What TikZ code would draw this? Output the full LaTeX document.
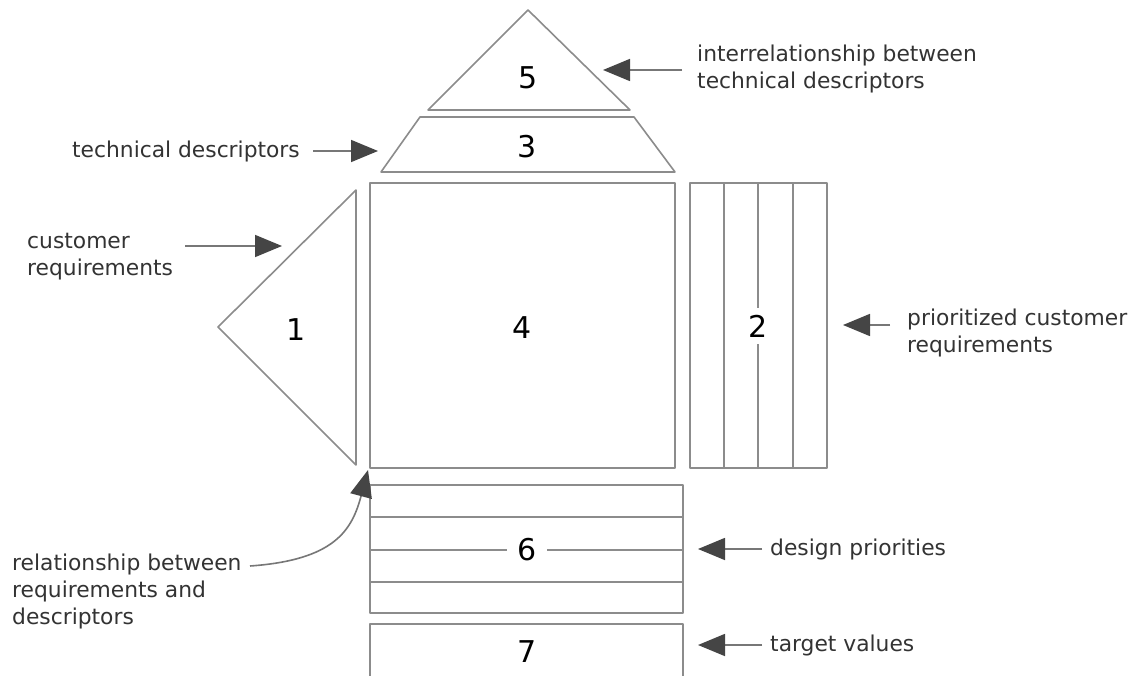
\documentclass[tikz,border=0pt]{standalone}
\usepackage{fontspec}
\setmainfont{DejaVu Sans}
\usetikzlibrary{arrows.meta}
\definecolor{edge}{HTML}{8C8C8C}
\definecolor{ink}{HTML}{333333}
\definecolor{tipc}{HTML}{454545}
\begin{document}
\begin{tikzpicture}[x=1pt,y=-1pt,
  part/.style={draw=edge, line width=1.6pt, line join=round},
  num/.style={text=black, font=\fontsize{30}{30}\selectfont, inner sep=0pt},
  note/.style={text=ink, font=\fontsize{21.8}{27}\selectfont, align=left, inner sep=0pt},
  pointer/.style={draw=edge!85!black, line width=1.6pt,
    -{Triangle[length=27pt,width=22pt,color=tipc]}}]
\fill[white] (0,0) rectangle (1144,676);
\useasboundingbox (0,0) rectangle (1144,676);

% roof (5) and ceiling (3)
\draw[part] (428,110) -- (528,10) -- (630,110) -- cycle;
\draw[part] (381,172) -- (420,117) -- (634,117) -- (675,172) -- cycle;
% relationship matrix (4)
\draw[part] (370,183) rectangle (675,468);
% customer requirements wall (1)
\draw[part] (356,190) -- (218,327) -- (356,465) -- cycle;
% prioritized customer requirements (2)
\draw[part] (690,183) rectangle (827,468);
\foreach \x in {724,758,793} \draw[part] (\x,183) -- (\x,468);
% design priorities (6)
\draw[part] (370,485) rectangle (683,613);
\foreach \y in {517,550,582} \draw[part] (370,\y) -- (683,\y);
% target values (7)
\draw[part] (370,676) -- (370,624) -- (683,624) -- (683,676);

% room numbers
\node[num] (n5) at (528,78) {5};
\node[num] (n3) at (527,147) {3};
\node[num] (n1) at (296,330) {1};
\node[num] (n4) at (522,328) {4};
\node[num, fill=white, inner xsep=3pt, inner ysep=7pt] (n2) at (758,326) {2};
\node[num, fill=white, inner xsep=10pt, inner ysep=3pt] (n6) at (527,550) {6};
\node[num] (n7) at (527,652) {7};

% labels
\node[note, anchor=west] (l5) at (697,69) {interrelationship between\\technical descriptors};
\node[note, anchor=east] (l3) at (300,151) {technical descriptors};
\node[note, anchor=west] (l1) at (27,257) {customer\\requirements};
\node[note, anchor=west] (l2) at (907,333) {prioritized customer\\requirements};
\node[note, anchor=west] (l6) at (770,549) {design priorities};
\node[note, anchor=west] (l7) at (770,645) {target values};
\node[note, anchor=west] (l4) at (12,591) {relationship between\\requirements and\\descriptors};

% arrow ends
\coordinate (s5) at (682,70);  \coordinate (t5) at (603,70);
\coordinate (s3) at (313,151); \coordinate (t3) at (378,151);
\coordinate (s1) at (185,246); \coordinate (t1) at (282,246);
\coordinate (s2) at (890,325); \coordinate (t2) at (843,325);
\coordinate (s6) at (762,549); \coordinate (t6) at (698,549);
\coordinate (s7) at (762,645); \coordinate (t7) at (698,645);
\coordinate (s4) at (250,566); \coordinate (t4) at (368,470);

\draw[pointer] (s5) -- (t5);
\draw[pointer] (s3) -- (t3);
\draw[pointer] (s1) -- (t1);
\draw[pointer] (s2) -- (t2);
\draw[pointer] (s6) -- (t6);
\draw[pointer] (s7) -- (t7);
\draw[pointer] (s4) .. controls (335,560) and (352,530) .. (t4);
\end{tikzpicture}
\end{document}
